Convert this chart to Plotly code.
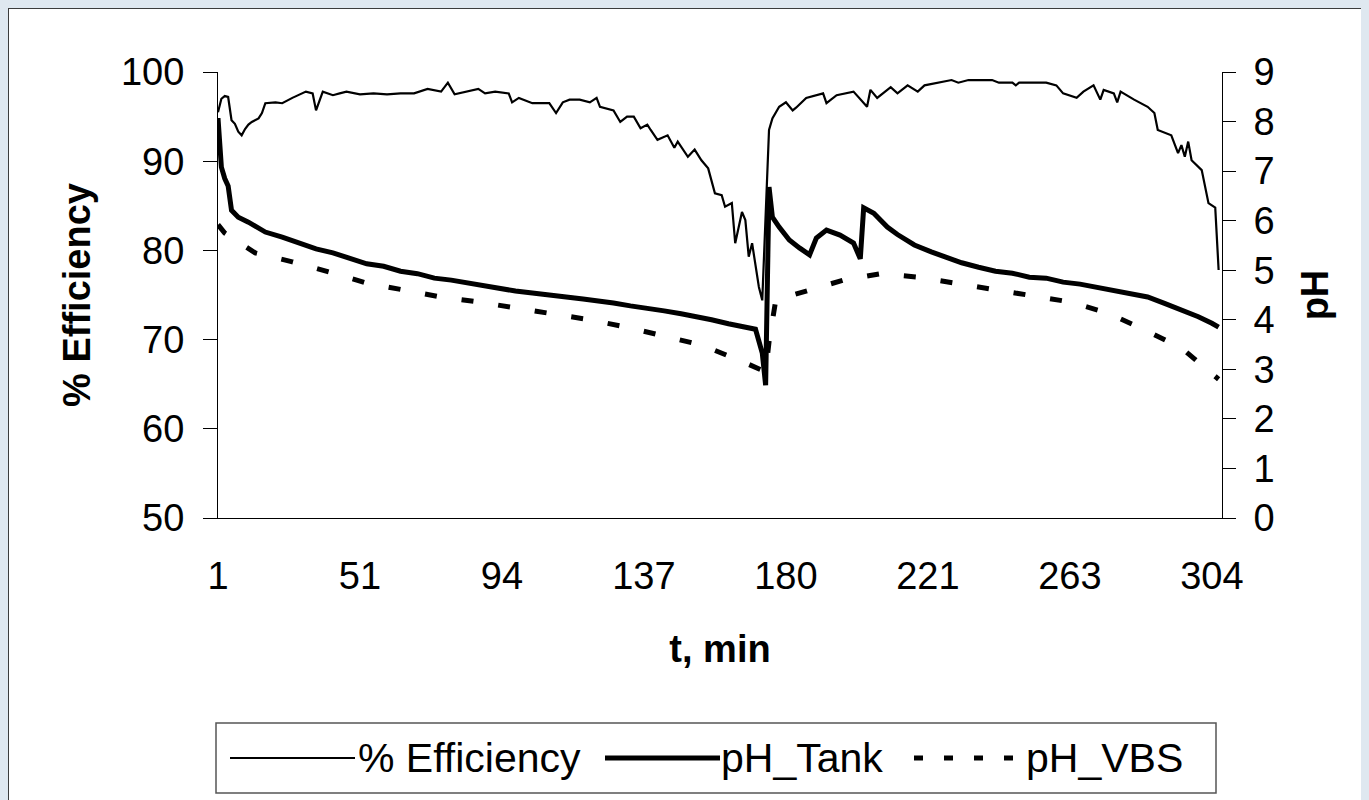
import plotly.graph_objects as go

# ---------------- data ----------------
# x = sample number along the category axis; tick labels are the minute values
tick_samples = [0, 42, 84, 126, 168, 210, 252, 294]
tick_labels = ["1", "51", "94", "137", "180", "221", "263", "304"]

series_names = ["% Efficiency", "pH_Tank", "pH_VBS"]

eff_sample = [0, 1, 2, 3, 4, 5, 6, 7, 8, 9, 10, 12, 13, 14, 17, 19, 22, 26, 28, 29,
              31, 34, 36, 38, 42, 46, 50, 54, 58, 62, 66, 68, 70, 74, 77, 79, 82, 86, 87, 89,
              93, 98, 100, 102, 104, 107, 110, 112, 113, 117, 119, 121, 123, 125, 127, 128, 130, 133, 135, 136,
              139, 141, 143, 145, 147, 149, 150, 152, 153, 155, 156, 157, 158, 160, 161, 163, 164, 166, 168, 170,
              171, 174, 177, 179, 180, 183, 188, 192, 193, 195, 199, 201, 204, 207, 209, 213, 217, 219, 222, 229,
              231, 235, 236, 237, 245, 248, 250, 254, 256, 259, 261, 262, 265, 266, 267, 271, 275, 277, 278, 282,
              284, 285, 286, 287, 288, 291, 293, 295, 296]
eff_value = [95.5, 97.0, 97.3, 97.2, 94.6, 94.2, 93.3, 92.9, 93.6, 94.1, 94.4, 94.8, 95.4, 96.5, 96.6, 96.5, 97.1, 97.8, 97.6, 95.7,
             97.8, 97.4, 97.6, 97.8, 97.5, 97.6, 97.5, 97.6, 97.6, 98.1, 97.8, 98.8, 97.5, 97.8, 98.1, 97.6, 97.8, 97.6, 96.6, 97.1,
             96.5, 96.5, 95.4, 96.6, 96.9, 96.9, 96.6, 97.1, 96.1, 95.7, 94.4, 95.0, 95.0, 93.7, 94.1, 93.5, 92.4, 92.9, 91.5, 92.2,
             90.5, 91.3, 90.1, 89.2, 86.4, 86.2, 84.9, 85.3, 80.8, 84.3, 83.4, 79.3, 80.8, 75.9, 74.4, 93.5, 94.8, 96.1, 96.6, 95.7,
             96.0, 97.1, 97.4, 97.6, 96.5, 97.4, 97.8, 96.1, 98.0, 97.1, 98.3, 97.6, 98.5, 97.8, 98.5, 98.8, 99.1, 98.8, 99.1, 99.1,
             98.8, 98.8, 98.5, 98.8, 98.8, 98.5, 97.6, 97.1, 97.8, 98.5, 96.9, 98.0, 97.6, 96.6, 97.8, 96.9, 96.1, 95.4, 93.5, 92.9,
             90.9, 91.8, 90.5, 92.2, 90.1, 89.0, 85.3, 84.8, 77.8]

tank_sample = [0, 1, 2, 3, 4, 6, 9, 14, 19, 24, 29, 34, 39, 44, 49, 54, 59, 64, 69, 74,
               78, 83, 88, 93, 98, 103, 108, 112, 117, 122, 127, 132, 137, 142, 146, 151, 156, 159, 161, 162,
               163, 164, 166, 169, 172, 175, 177, 180, 184, 188, 190, 191, 194, 196, 198, 201, 206, 211, 216, 220,
               225, 230, 235, 240, 245, 250, 255, 260, 265, 270, 275, 280, 285, 290, 294, 296]
tank_value = [8.07, 7.08, 6.85, 6.70, 6.21, 6.07, 5.97, 5.77, 5.67, 5.55, 5.43, 5.35, 5.23, 5.13, 5.08, 4.98, 4.93, 4.84, 4.80, 4.74,
              4.70, 4.63, 4.58, 4.54, 4.49, 4.46, 4.42, 4.39, 4.34, 4.28, 4.24, 4.18, 4.12, 4.06, 4.00, 3.92, 3.86, 3.81, 3.33, 2.68,
              6.68, 6.07, 5.87, 5.61, 5.45, 5.31, 5.65, 5.81, 5.71, 5.55, 5.23, 6.26, 6.15, 6.01, 5.87, 5.72, 5.51, 5.37, 5.25, 5.15,
              5.06, 4.98, 4.94, 4.86, 4.84, 4.76, 4.72, 4.66, 4.60, 4.54, 4.46, 4.33, 4.20, 4.06, 3.93, 3.85]

vbs_sample = [0, 2, 11, 22, 33, 44, 55, 66, 77, 88, 99, 110, 121, 132, 143, 154, 158, 162, 163, 165,
              175, 185, 196, 207, 218, 230, 241, 252, 263, 274, 285, 296]
vbs_value = [5.92, 5.75, 5.35, 5.17, 4.96, 4.74, 4.60, 4.46, 4.36, 4.24, 4.12, 4.00, 3.85, 3.67, 3.49, 3.19, 3.08, 2.95, 3.55, 4.40,
             4.60, 4.80, 4.93, 4.86, 4.74, 4.60, 4.48, 4.36, 4.14, 3.80, 3.43, 2.80]

# ---------------- layout constants (page pixels) ----------------
W, H = 1369, 800
OFF = 8                                   # default body margin of the page
L, R, T, B = 218, 1222, 72, 518          # plot area in page pixels
FONT = "Liberation Sans, Arial, sans-serif"
FS = 38
LEG_FS = 41
BG = "#dfe8f0"


def px_x(p):
    return (p - L) / (R - L)


def px_y(p):
    return (B - p) / (B - T)


fig = go.Figure()
fig.add_trace(go.Scatter(x=eff_sample, y=eff_value, name=series_names[0], mode="lines",
                         line=dict(color="black", width=2.2), yaxis="y", showlegend=False))
fig.add_trace(go.Scatter(x=tank_sample, y=tank_value, name=series_names[1], mode="lines",
                         line=dict(color="black", width=5), yaxis="y2", showlegend=False))
fig.add_trace(go.Scatter(x=vbs_sample, y=vbs_value, name=series_names[2], mode="lines",
                         line=dict(color="black", width=5, dash="12px,25px"), yaxis="y2", showlegend=False))

axis_common = dict(showgrid=False, zeroline=False, linecolor="black", linewidth=1,
                   tickcolor="black", tickwidth=1)

fig.update_layout(
    width=W - OFF, height=H - OFF, autosize=False,
    margin=dict(l=L - OFF, r=W - R, t=T - OFF, b=H - B, pad=0),
    paper_bgcolor=BG, plot_bgcolor="white",
    showlegend=False,
    font=dict(family=FONT, size=FS, color="black"),
    xaxis=dict(range=[0, 297], tickmode="array", tickvals=tick_samples, ticktext=tick_labels,
               ticks="", showline=True, ticklabelstandoff=24,
               title=dict(text="t, min", font=dict(size=FS, weight="bold"), standoff=39),
               **axis_common),
    yaxis=dict(range=[50, 100], tick0=50, dtick=10, ticks="outside", ticklen=14, showline=True,
               ticklabelstandoff=11,
               title=dict(text="% Efficiency", font=dict(size=FS, weight="bold"), standoff=18),
               **axis_common),
    yaxis2=dict(overlaying="y", side="right", anchor="x", range=[0, 9], tick0=0, dtick=1,
                ticks="outside", ticklen=13, showline=True, ticklabelstandoff=10,
                title=dict(text="pH", font=dict(size=FS, weight="bold"), standoff=27),
                **axis_common),
    yaxis3=dict(overlaying="y", side="left", anchor="x", range=[50, 100], tick0=50, dtick=10,
                ticks="inside", ticklen=11, showticklabels=False, showline=False, **axis_common),
    yaxis4=dict(overlaying="y", side="right", anchor="x", range=[0, 9], tick0=0, dtick=1,
                ticks="inside", ticklen=12, showticklabels=False, showline=False, **axis_common),
)

shapes = []
# white chart area with dark border
shapes.append(dict(type="rect", xref="paper", yref="paper", layer="below",
                   x0=px_x(OFF), x1=px_x(W + 10), y0=px_y(OFF), y1=px_y(H + 10),
                   fillcolor="white", line=dict(color="#3c3c3c", width=2)))
# legend box
shapes.append(dict(type="rect", xref="paper", yref="paper",
                   x0=px_x(216), x1=px_x(1216), y0=px_y(723), y1=px_y(793),
                   fillcolor="white", line=dict(color="#555555", width=1.5)))
legend_y = 758
legend_items = [
    (230, 355, dict(color="black", width=2.2), 356),
    (605, 720, dict(color="black", width=5), 719),
    (914, 1025, dict(color="black", width=5, dash="9px,21px"), 1024),
]
annotations = []
for (a, b, ln, tx), name in zip(legend_items, series_names):
    shapes.append(dict(type="line", xref="paper", yref="paper",
                       x0=px_x(a), x1=px_x(b), y0=px_y(legend_y), y1=px_y(legend_y), line=ln))
    annotations.append(dict(xref="paper", yref="paper", x=px_x(tx), y=px_y(legend_y),
                            text=name, showarrow=False, xanchor="left", yanchor="middle",
                            font=dict(family=FONT, size=LEG_FS, color="black")))

fig.update_layout(shapes=shapes, annotations=annotations)

fig.write_html("out.html", post_script="document.body.style.background='%s';" % BG)
